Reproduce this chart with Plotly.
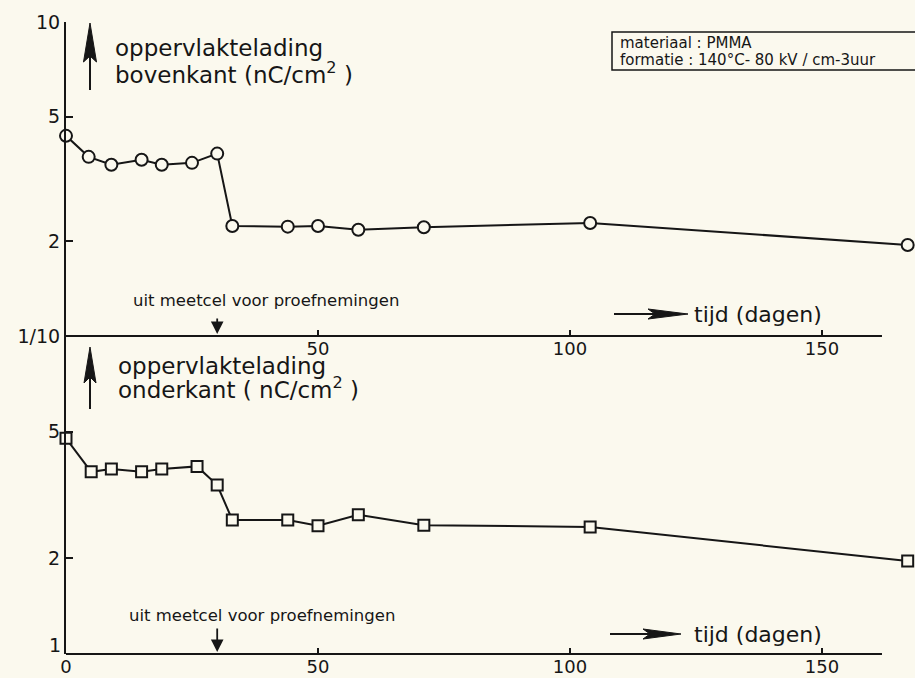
import plotly.graph_objects as go

# ---------------- data ----------------
days_top = [0, 4.5, 9, 15, 19, 25, 30, 33, 44, 50, 58, 71, 104, 167]
charge_top = [4.34, 3.72, 3.51, 3.64, 3.51, 3.56, 3.81, 2.24, 2.23, 2.24, 2.18, 2.22, 2.29, 1.95]

days_bottom = [0, 5, 9, 15, 19, 26, 30, 33, 44, 50, 58, 71, 104, 167]
charge_bottom = [4.77, 3.74, 3.82, 3.74, 3.82, 3.89, 3.40, 2.64, 2.64, 2.53, 2.74, 2.54, 2.51, 1.96]

x_ticks_top = [50, 100, 150]
x_ticks_bottom = [0, 50, 100, 150]
y_ticks_top = [2, 5, 10]
y_ticklabels_top = ["2", "5", "10"]
y_ticks_bottom = [2, 5, 10]
y_ticklabels_bottom = ["2", "5", "1/10"]
removal_day = 30
axis_end_day = 161.9

# ---------------- layout helpers ----------------
W, H = 915, 678
L, R, T, B = 66, 0, 22, 24
PW, PH = W - L - R, H - T - B
split = (H - B - 336) / PH


def px(p):
    return (p - L) / PW


def py(p):
    return (H - B - p) / PH


INK = "#161616"
BG = "#fbf9ee"
FONT = "DejaVu Sans"

fig = go.Figure()
fig.add_trace(go.Scatter(
    x=days_top, y=charge_top, mode="lines+markers", xaxis="x", yaxis="y",
    line=dict(color=INK, width=2),
    marker=dict(symbol="circle", size=12, color=BG, line=dict(color=INK, width=2)),
    cliponaxis=False, showlegend=False))
fig.add_trace(go.Scatter(
    x=days_bottom, y=charge_bottom, mode="lines+markers", xaxis="x2", yaxis="y2",
    line=dict(color=INK, width=2),
    marker=dict(symbol="square", size=11, color=BG, line=dict(color=INK, width=2)),
    cliponaxis=False, showlegend=False))

xr = [0, PW / 5.04]
common_x = dict(range=xr, showgrid=False, zeroline=False, showline=False,
                ticks="inside", ticklen=6, tickwidth=2, tickcolor=INK,
                tickfont=dict(family=FONT, size=18, color=INK), automargin=False,
                fixedrange=True)
common_y = dict(type="log", range=[0, 1], showgrid=False, zeroline=False,
                showline=True, linewidth=2, linecolor=INK,
                ticks="inside", ticklen=7, tickwidth=2, tickcolor=INK,
                tickfont=dict(family=FONT, size=19, color=INK), automargin=False,
                fixedrange=True)

fig.update_layout(
    width=W, height=H,
    margin=dict(l=L, r=R, t=T, b=B, pad=0),
    paper_bgcolor=BG, plot_bgcolor=BG,
    xaxis=dict(anchor="y", tickvals=x_ticks_top, **common_x),
    xaxis2=dict(anchor="y2", tickvals=x_ticks_bottom, matches="x", **common_x),
    yaxis=dict(domain=[split, 1], anchor="x", tickvals=y_ticks_top,
               ticktext=y_ticklabels_top, **common_y),
    yaxis2=dict(domain=[0, split], anchor="x2", tickvals=y_ticks_bottom,
                ticktext=y_ticklabels_bottom, **common_y),
)

shapes = []
# horizontal axis lines (end before the right edge)
for xref, yref in (("x", "y domain"), ("x2", "y2 domain")):
    shapes.append(dict(type="line", xref=xref, yref=yref, x0=0, x1=axis_end_day,
                       y0=0, y1=0, line=dict(color=INK, width=2)))


def up_arrow(x, tip, base, notch, tail, half=6.5):
    return [
        dict(type="path", xref="paper", yref="paper",
             path=f"M {px(x)},{py(tip)} L {px(x+half)},{py(base)} L {px(x)},{py(notch)} "
                  f"L {px(x-half)},{py(base)} Z",
             fillcolor=INK, line=dict(color=INK, width=1)),
        dict(type="line", xref="paper", yref="paper", x0=px(x), x1=px(x),
             y0=py(notch), y1=py(tail), line=dict(color=INK, width=2)),
    ]


def right_arrow(x0, head0, notch, tip, y, half=5):
    return [
        dict(type="line", xref="paper", yref="paper", x0=px(x0), x1=px(notch),
             y0=py(y), y1=py(y), line=dict(color=INK, width=2)),
        dict(type="path", xref="paper", yref="paper",
             path=f"M {px(tip)},{py(y)} L {px(head0)},{py(y-half)} L {px(notch)},{py(y)} "
                  f"L {px(head0)},{py(y+half)} Z",
             fillcolor=INK, line=dict(color=INK, width=1)),
    ]


shapes += up_arrow(90, 23, 62, 56, 90)
shapes += up_arrow(90, 347, 383, 377, 409, half=6)
shapes += right_arrow(614, 648, 655, 688, 314)
shapes += right_arrow(610, 643, 650, 681, 634)
# info box
shapes.append(dict(type="rect", xref="paper", yref="paper",
                   x0=px(612), x1=px(940), y0=py(32), y1=py(70),
                   line=dict(color=INK, width=1.5), fillcolor="rgba(0,0,0,0)"))
fig.update_layout(shapes=shapes)

ann = []


def text(s, x, y, size, anchor="left"):
    ann.append(dict(text=s, x=px(x), y=py(y), xref="paper", yref="paper",
                    xanchor=anchor, yanchor="middle", showarrow=False,
                    font=dict(family=FONT, size=size, color=INK)))


text("oppervlaktelading", 113, 48, 23)
text("bovenkant (nC/cm<sup>2</sup> )", 113, 73, 23)
text("oppervlaktelading", 116, 366, 23)
text("onderkant ( nC/cm<sup>2</sup> )", 116, 388, 23)
text("materiaal : PMMA", 618, 43, 15)
text("formatie : 140°C- 80 kV / cm-3uur", 618, 60, 15)
text("uit meetcel voor proefnemingen", 131, 300, 16.5)
text("uit meetcel voor proefnemingen", 127, 615, 16.5)
text("tijd (dagen)", 692, 314, 22)
text("tijd (dagen)", 692, 634, 22)
text("1", 47, 645, 19)

# downward arrows at the removal day
for xref, ytip, ytail in (("x", 334, 317), ("x2", 652, 627)):
    ann.append(dict(text="", x=removal_day, y=py(ytip), xref=xref, yref="paper",
                    showarrow=True, ax=0, ay=-(ytip - ytail), axref="pixel", ayref="pixel",
                    arrowhead=2, arrowsize=1.4, arrowwidth=1.8, arrowcolor=INK))
fig.update_layout(annotations=ann)

fig.write_html(
    "out.html",
    config={"displayModeBar": False, "staticPlot": True},
    post_script=(
        "document.body.style.margin='0px';"
        f"document.body.style.background='{BG}';"
        f"document.documentElement.style.background='{BG}';"
        "document.body.style.overflow='hidden';"
    ),
)
